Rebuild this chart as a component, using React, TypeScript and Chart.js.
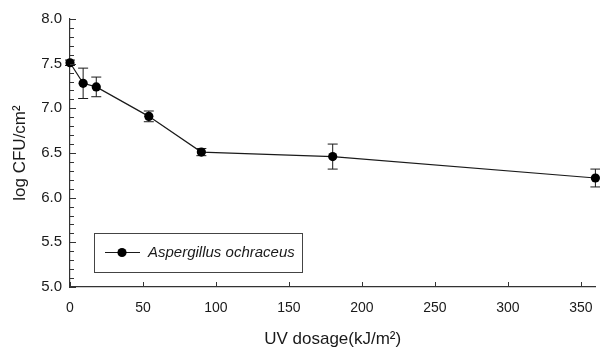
import React, { useEffect, useRef } from "react";
import { Chart, registerables } from "chart.js";

Chart.register(...registerables);

const doses = [0, 9, 18, 54, 90, 180, 360];
const logCFU = [7.51, 7.28, 7.24, 6.91, 6.51, 6.46, 6.22];
const errors = [0.03, 0.17, 0.11, 0.06, 0.04, 0.14, 0.1];
const xTickValues = [0, 50, 100, 150, 200, 250, 300, 350];
const seriesLabel = "Aspergillus ochraceus";
const xTitle = "UV dosage(kJ/m²)";
const yTitle = "log CFU/cm²";

const FONT = "'Liberation Sans', Arial, sans-serif";
const INK = "#1a1a1a";

const customPlugin = {
  id: "customDecor",
  beforeDatasetsDraw(chart: any) {
    const ctx = chart.ctx;
    const meta = chart.getDatasetMeta(0);
    const ys = chart.scales.y;
    ctx.save();
    ctx.strokeStyle = INK;
    ctx.lineWidth = 1;
    meta.data.forEach((pt: any, i: number) => {
      const x = pt.x;
      const yTop = ys.getPixelForValue(logCFU[i] + errors[i]);
      const yBot = ys.getPixelForValue(logCFU[i] - errors[i]);
      ctx.beginPath();
      ctx.moveTo(x, yTop);
      ctx.lineTo(x, yBot);
      ctx.moveTo(x - 5, yTop);
      ctx.lineTo(x + 5, yTop);
      ctx.moveTo(x - 5, yBot);
      ctx.lineTo(x + 5, yBot);
      ctx.stroke();
    });
    ctx.restore();
  },
  afterDraw(chart: any) {
    const ctx = chart.ctx;
    const xs = chart.scales.x;
    const ys = chart.scales.y;
    const area = chart.chartArea;
    ctx.save();
    ctx.strokeStyle = "#333";
    ctx.lineWidth = 1;
    for (let k = 50; k <= 80; k++) {
      const v = k / 10;
      const py = Math.round(ys.getPixelForValue(v)) + 0.5;
      const len = k % 5 === 0 ? 6 : 4;
      ctx.beginPath();
      ctx.moveTo(area.left, py);
      ctx.lineTo(area.left + len, py);
      ctx.stroke();
    }
    xs.ticks.forEach((t: any) => {
      const px = Math.round(xs.getPixelForValue(t.value)) + 0.5;
      ctx.beginPath();
      ctx.moveTo(px, area.bottom);
      ctx.lineTo(px, area.bottom - 5);
      ctx.stroke();
    });
    ctx.fillStyle = INK;
    ctx.font = `17px ${FONT}`;
    ctx.textAlign = "center";
    ctx.textBaseline = "middle";
    ctx.fillText(xTitle, (area.left + area.right) / 2, 339);
    ctx.save();
    ctx.translate(20, (area.top + area.bottom) / 2);
    ctx.rotate(-Math.PI / 2);
    ctx.fillText(yTitle, 0, 0);
    ctx.restore();
    const bx = 94, by = 233, bw = 208, bh = 39;
    ctx.strokeStyle = "#444";
    ctx.lineWidth = 1;
    ctx.strokeRect(bx + 0.5, by + 0.5, bw, bh);
    const ly = by + bh / 2;
    ctx.strokeStyle = INK;
    ctx.lineWidth = 1.2;
    ctx.beginPath();
    ctx.moveTo(105, ly);
    ctx.lineTo(140, ly);
    ctx.stroke();
    ctx.fillStyle = "#000";
    ctx.beginPath();
    ctx.arc(122, ly, 4.6, 0, Math.PI * 2);
    ctx.fill();
    ctx.fillStyle = INK;
    ctx.font = `italic 15px ${FONT}`;
    ctx.textAlign = "left";
    ctx.fillText(seriesLabel, 148, ly + 0.5);
    ctx.restore();
  },
};

export default function App() {
  const ref = useRef<HTMLCanvasElement | null>(null);
  useEffect(() => {
    document.body.style.margin = "0";
    const canvas = ref.current!;
    const chart = new Chart(canvas, {
      type: "line",
      data: {
        datasets: [
          {
            label: seriesLabel,
            data: doses.map((d, i) => ({ x: d, y: logCFU[i] })),
            borderColor: INK,
            borderWidth: 1.2,
            pointRadius: 4.6,
            pointBackgroundColor: "#000",
            pointBorderColor: "#000",
            pointBorderWidth: 0,
            tension: 0,
            clip: false as any,
          },
        ],
      },
      options: {
        responsive: false,
        animation: false,
        layout: { padding: { top: 19, right: 0, left: 0, bottom: 0 } },
        plugins: { legend: { display: false }, tooltip: { enabled: false } },
        scales: {
          x: {
            type: "linear",
            min: 0,
            max: 360,
            grid: { display: false },
            border: { display: true, color: "#333", width: 1.2 },
            ticks: {
              padding: 5,
              color: INK,
              font: { size: 14, family: FONT },
              maxRotation: 0,
              autoSkip: false,
            },
            afterBuildTicks: (s: any) => {
              s.ticks = xTickValues.map((v) => ({ value: v }));
            },
            afterFit: (s: any) => {
              s.height = 64;
            },
          },
          y: {
            type: "linear",
            min: 5,
            max: 8,
            grid: { display: false },
            border: { display: true, color: "#333", width: 1.2 },
            ticks: {
              stepSize: 0.5,
              padding: 0,
              color: INK,
              font: { size: 15, family: FONT },
              callback: (v: any) => Number(v).toFixed(1),
            },
            afterFit: (s: any) => {
              s.width = 70;
            },
          },
        },
      },
      plugins: [customPlugin],
    });
    return () => chart.destroy();
  }, []);
  return <canvas ref={ref} width={600} height={351} style={{ display: "block" }} />;
}
